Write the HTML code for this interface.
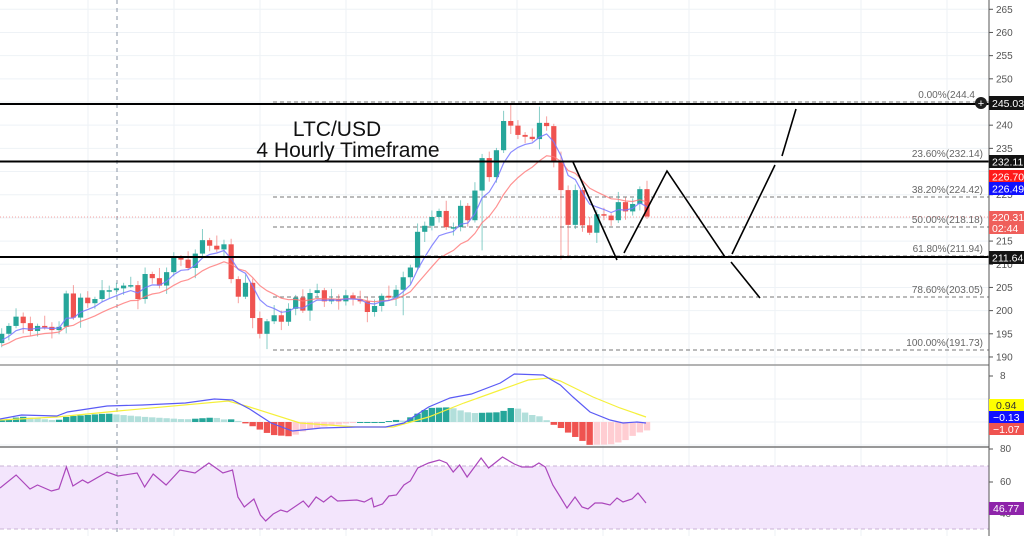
<!DOCTYPE html>
<html><head><meta charset="utf-8"><style>
html,body{margin:0;padding:0;background:#fff;width:1024px;height:536px;overflow:hidden}
svg{display:block}
text{font-family:"Liberation Sans",sans-serif}
</style></head><body>
<svg id="s" width="1024" height="536" viewBox="0 0 1024 536" xmlns="http://www.w3.org/2000/svg">
<defs><clipPath id="cp"><rect x="0" y="0" width="989" height="364"/></clipPath>
<clipPath id="cm"><rect x="0" y="366" width="989" height="80"/></clipPath>
<clipPath id="cr"><rect x="0" y="448" width="989" height="88"/></clipPath></defs>
<g id="grid"></g>
<rect x="0" y="466" width="989" height="63" fill="#f3e5fc"/>
<line x1="0" y1="466" x2="989" y2="466" stroke="#c9b3d6" stroke-dasharray="4,3"/>
<line x1="0" y1="529" x2="989" y2="529" stroke="#c9b3d6" stroke-dasharray="4,3"/>
<line x1="117" y1="0" x2="117" y2="536" stroke="#8a94a6" stroke-dasharray="4,4" stroke-width="1"/>
<g id="fib"></g>
<line x1="0" y1="217" x2="989" y2="217" stroke="#ef5350" stroke-dasharray="1,2" stroke-width="0.8" opacity="0.7"/>
<g id="cand" clip-path="url(#cp)"></g>
<g id="lines" fill="none" stroke="#000" stroke-width="2">
<line x1="0" y1="104" x2="989" y2="104"/>
<line x1="0" y1="161.5" x2="989" y2="161.5"/>
<line x1="0" y1="257" x2="989" y2="257"/>
<polyline points="573,162 617,260" stroke-width="1.6"/>
<polyline points="624,253 667,171 725,257" stroke-width="1.6"/>
<polyline points="732,254 775,165" stroke-width="1.6"/>
<polyline points="782,156 796,109" stroke-width="1.6"/>
<polyline points="731,262 760,298" stroke-width="1.6"/>
</g>
<text x="337" y="136" font-size="21" text-anchor="middle" fill="#111">LTC/USD</text>
<text x="348" y="157" font-size="21" text-anchor="middle" fill="#111">4 Hourly Timeframe</text>
<g id="macd" clip-path="url(#cm)"></g>
<g id="rsi" clip-path="url(#cr)"></g>
<line x1="0" y1="365" x2="989" y2="365" stroke="#9a9a9a" stroke-width="1.5"/>
<line x1="0" y1="447" x2="989" y2="447" stroke="#777" stroke-width="1.5"/>
<rect x="989" y="0" width="35" height="536" fill="#fff"/>
<line x1="989" y1="0" x2="989" y2="536" stroke="#555" stroke-width="1"/>
<g id="axis" font-size="10" fill="#555"></g>
<g font-size="10.5" fill="#fff">
<circle cx="981" cy="103" r="6" fill="#1e1e1e"/><text x="981" y="107" text-anchor="middle" font-size="11">+</text>
<rect x="989" y="96" width="35" height="14" fill="#131313"/><text x="992" y="107">245.03</text>
<rect x="989" y="155" width="35" height="13" fill="#131313"/><text x="992" y="165.5">232.11</text>
<rect x="989" y="170" width="35" height="13" fill="#ff1a1a"/><text x="992" y="180.5">226.70</text>
<rect x="989" y="182" width="35" height="13" fill="#1010ff"/><text x="992" y="192.5">226.49</text>
<rect x="989" y="211" width="35" height="23" fill="#ef5f5b"/><text x="992" y="221">220.31</text><text x="992" y="232">02:44</text>
<rect x="989" y="251" width="35" height="13" fill="#131313"/><text x="992" y="261.5">211.64</text>
<rect x="989" y="399" width="35" height="12" fill="#ffff00"/><text x="996" y="409" fill="#333">0.94</text>
<rect x="989" y="411" width="35" height="12" fill="#1010ff"/><text x="993" y="421">−0.13</text>
<rect x="989" y="423" width="35" height="12" fill="#ef5350"/><text x="993" y="433">−1.07</text>
<rect x="989" y="502" width="35" height="13" fill="#8e24aa"/><text x="993" y="512">46.77</text>
</g>
</svg>
<script>
var NS="http://www.w3.org/2000/svg";
function el(p,t,a){var e=document.createElementNS(NS,t);for(var k in a)e.setAttribute(k,a[k]);p.appendChild(e);return e;}
function Y(p){return 102+(245-p)*4.636;}
var G=document.getElementById('grid');
[88,174,260,346,432,517,603,689,775,861,947].forEach(function(x){el(G,'line',{x1:x,y1:0,x2:x,y2:536,stroke:'#eef2f6','stroke-width':1});});
for(var p=190;p<=265;p+=5)el(G,'line',{x1:0,y1:Y(p),x2:989,y2:Y(p),stroke:'#eef2f6'});
[399,422,445,482,498,514].forEach(function(y){el(G,'line',{x1:0,y1:y,x2:989,y2:y,stroke:'#eef2f6'});});
var A=document.getElementById('axis');
[265,260,255,250,240,235,225,215,210,205,200,195,190].forEach(function(p){var y=Y(p);el(A,'line',{x1:989,y1:y,x2:993,y2:y,stroke:'#555'});el(A,'text',{x:996,y:y+3.5}).textContent=p;});
[[8,379],[80,452],[60,485],[40,517]].forEach(function(a){el(A,'line',{x1:989,y1:a[1]-3,x2:993,y2:a[1]-3,stroke:'#555'});el(A,'text',{x:1000,y:a[1]}).textContent=a[0];});
var F=document.getElementById('fib');
[[244.4,'0.00%(244.4',102],[232.14,'23.60%(232.14)',161],[224.42,'38.20%(224.42)',197],[218.18,'50.00%(218.18)',227],[211.94,'61.80%(211.94)',256],[203.05,'78.60%(203.05)',297],[191.73,'100.00%(191.73)',350]].forEach(function(f){
el(F,'line',{x1:273,y1:f[2],x2:989,y2:f[2],stroke:'#777','stroke-dasharray':'4,3','stroke-width':1});
var t=el(F,'text',{x:f[0]>244?975:983,y:f[2]-4,'font-size':'10','text-anchor':'end',fill:'#666'});t.textContent=f[1];});
var C=[195,196.7,198.7,197.3,195.6,196.7,196.5,195.8,196.5,203.7,198.5,202.8,201.6,202.5,204.4,204.4,204.8,205.4,205.5,202.5,207.9,207,205.4,208.3,211.4,211,209.2,212.3,215.2,214,213.2,214.3,206.8,203,206,198.4,195,197.7,199,197.6,200.4,202.8,200,203.8,204.4,202,202.5,202,203.3,202.5,202,199.7,201,203.2,202.8,204.5,207.2,209.3,217,
218.3,220.2,221.5,218,218,222.6,219.5,225.9,232.9,228.8,234.6,240.9,239.9,237.9,237.5,237,240.5,239.8,232.1,226,218.5,226,218.4,216.8,220.8,220.5,219.5,223.4,221.4,223,226.2,220.3];
var N=C.length,K=document.getElementById('cand');
function X(i){return 647-7.17*(N-1-i);}
var wv=[1.2,0.6,1.8,0.9,1.4,0.5,2.2,1.0];
var hiO={},loO={};hiO[71]=244.4;loO[37]=191.7;loO[67]=213;loO[78]=211;loO[79]=211.3;loO[56]=199;hiO[28]=217.6;hiO[75]=244;
var e1=[],e2=[],a1=2/7,a2=2/14,v1=193,v2=192;
for(var i=0;i<N;i++){
var o=i?C[i-1]:193,c=C[i];var up=c>=o;
var h=hiO[i]||Math.max(o,c)+wv[i%8],l=loO[i]||Math.min(o,c)-wv[(i+3)%8];
var col=up?'#26a69a':'#ef5350',x=X(i);
el(K,'line',{x1:x,y1:Y(h),x2:x,y2:Y(l),stroke:col,'stroke-width':1,opacity:0.55});
var t=Y(Math.max(o,c)),b=Y(Math.min(o,c));if(b-t<1.5){b=t+1.5;}
el(K,'rect',{x:x-2.6,y:t,width:5.2,height:b-t,fill:col});
v1=v1+a1*(c-v1);v2=v2+a2*(c-v2);e1.push(x+','+Y(v1).toFixed(1));e2.push(x+','+Y(v2).toFixed(1));}
el(K,'polyline',{points:e2.join(' '),fill:'none',stroke:'#f77',opacity:0.8,'stroke-width':1.2});
el(K,'polyline',{points:e1.join(' '),fill:'none',stroke:'#77f',opacity:0.85,'stroke-width':1.2});
function fx(P){return P.map(function(p){return p[0]<=523?[+(p[0]*1.0714).toFixed(1),p[1]]:p;});}
var B=fx([[0,419],[20,415],[53,416],[63,412],[100,406],[133,405],[173,403],[200,399],[217,400],[233,409],[253,423],[273,431],[300,428],[333,427],[360,427],[377,423],[400,407],[420,398],[440,394],[467,383],[480,374],[507,375],[523,385],[573,397],[590,412],[610,420],[623,423],[637,422],[646,423]]);
var Yl=fx([[0,420],[53,417],[110,411],[213,401],[233,407],[280,423],[333,427],[367,427],[400,417],[433,403],[467,390],[493,380],[513,378],[523,381],[593,397],[620,408],[646,417]]);
function interp(P,x){for(var j=1;j<P.length;j++)if(x<=P[j][0]){var a=P[j-1],b=P[j];return a[1]+(b[1]-a[1])*(x-a[0])/(b[0]-a[0]);}return P[P.length-1][1];}
var M=document.getElementById('macd'),prev=0;
for(var i=0;i<N;i++){var x=X(i);var d=(interp(Yl,x)-interp(B,x))*1.4;var col;
if(d>=0)col=d>=prev?'#26a69a':'#b2dfdb';else col=d<=prev?'#ef5350':'#ffcdd2';prev=d;
var y0=422,y1=422-d;el(M,'rect',{x:x-3.2,y:Math.min(y0,y1),width:6.4,height:Math.max(1,Math.abs(d)),fill:col});}
el(M,'polyline',{points:Yl.map(function(p){return p.join(',');}).join(' '),fill:'none',stroke:'#f5f03a','stroke-width':1.2});
el(M,'polyline',{points:B.map(function(p){return p.join(',');}).join(' '),fill:'none',stroke:'#5b5bf5','stroke-width':1.2});
var R=fx([[0,488],[15,475],[28,489],[35,485],[48,491],[55,489],[62,467],[68,486],[77,480],[82,483],[100,472],[110,476],[128,473],[135,487],[143,474],[155,485],[168,470],[182,473],[195,463],[208,473],[217,470],[222,497],[228,507],[237,499],[243,515],[248,521],[255,514],[262,510],[268,512],[283,501],[288,507],[295,497],[302,502],[309,496],[315,501],[333,500],[340,502],[347,498],[349,507],[357,504],[363,496],[370,495],[377,485],[383,481],[390,468],[400,463],[410,460],[417,463],[423,472],[429,465],[436,477],[449,458],[456,468],[469,457],[480,464],[487,467],[497,467],[503,463],[509,467],[516,485],[523,497],[567,508],[575,497],[582,507],[588,509],[595,503],[602,503],[610,505],[617,498],[623,502],[632,499],[638,493],[646,503]]);
el(document.getElementById('rsi'),'polyline',{points:R.map(function(p){return p.join(',');}).join(' '),fill:'none',stroke:'#ab47bc','stroke-width':1.2});
</script>
</body></html>
